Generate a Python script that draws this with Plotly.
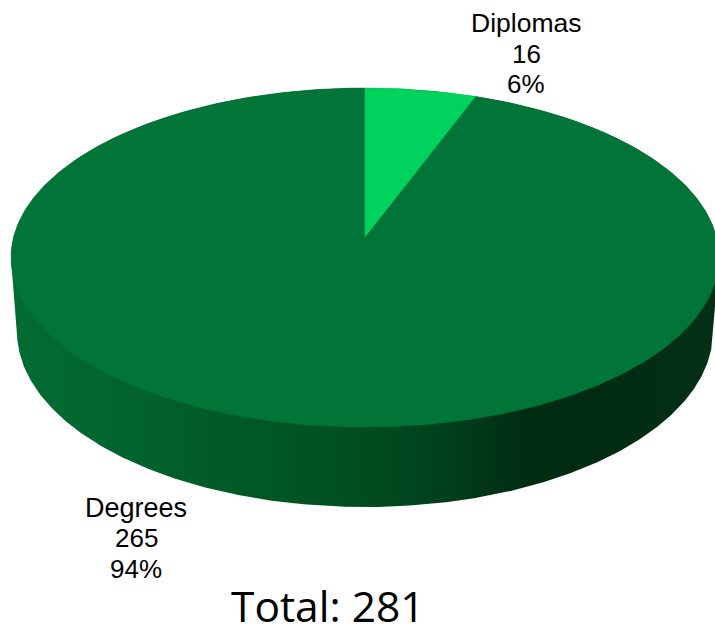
import numpy as np
import plotly.graph_objects as go

categories = ["Diplomas", "Degrees"]
values = [16, 265]
percent_labels = ["6%", "94%"]
total_label = "Total: 281"
slice_colors = ["#00D25E", "#017438"]

# Projection of the pie's unit circle on the page
CX, A, C = 365.0, 351.4, 0.121
YA, YB = -138.4, 237.0
DEPTH_D, DEPTH_E = 0.017, 78.9


def project(theta, radius=1.0, z=0.0):
    u = radius * np.sin(theta)
    v = radius * np.cos(theta)
    d = 1 + C * v + DEPTH_D * z
    return CX + A * u / d, (YA * v + YB + DEPTH_E * z) / d


def convex_hull(points):
    pts = sorted(set(points))

    def half(seq):
        out = []
        for p in seq:
            while len(out) > 1 and ((out[-1][0] - out[-2][0]) * (p[1] - out[-2][1])
                                    - (out[-1][1] - out[-2][1]) * (p[0] - out[-2][0])) <= 0:
                out.pop()
            out.append(p)
        return out[:-1]

    return half(pts) + half(pts[::-1])


fig = go.Figure()

# Side wall: silhouette of the cylinder, shaded left to right
ring = np.radians(np.linspace(0, 360, 721)[:-1])
top_x, top_y = project(ring)
bot_x, bot_y = project(ring, z=1.0)
hull = convex_hull(list(zip(top_x.tolist(), top_y.tolist())) + list(zip(bot_x.tolist(), bot_y.tolist())))
hull = hull + hull[:1]
wall_scale = [
    [0.00, "rgb(2,108,50)"],
    [0.13, "rgb(2,102,47)"],
    [0.27, "rgb(1,92,41)"],
    [0.41, "rgb(0,84,35)"],
    [0.55, "rgb(0,72,31)"],
    [0.65, "rgb(0,58,24)"],
    [0.73, "rgb(0,44,18)"],
    [0.86, "rgb(1,44,19)"],
    [1.00, "rgb(2,48,22)"],
]
fig.add_trace(go.Scatter(x=[p[0] for p in hull], y=[p[1] for p in hull], mode="lines",
                         fill="toself", line=dict(width=0),
                         fillgradient=dict(type="horizontal", colorscale=wall_scale),
                         hoverinfo="skip", showlegend=False))

# Top face: one wedge per value
share = np.array(values, dtype=float) / sum(values)
bounds = np.r_[0, np.cumsum(share)] * 2 * np.pi
order = [1, 0]
for i in order:
    ts = np.linspace(bounds[i], bounds[i + 1], 361)
    x, y = project(ts)
    cx, cy = project(np.array([0.0]), radius=0.0)
    fig.add_trace(go.Scatter(x=np.r_[cx, x, cx], y=np.r_[cy, y, cy], mode="lines",
                             fill="toself", fillcolor=slice_colors[i],
                             line=dict(color=slice_colors[i], width=0.5),
                             name=categories[i], hoverinfo="name", showlegend=False))

# Labels
ann = []
label_specs = [(526, [23, 54, 84], 26.5, 26), (136, [508, 538, 569], 27, 26)]
for i, (lx, ly, fs0, fs1) in enumerate(label_specs):
    rows = [categories[i], str(values[i]), percent_labels[i]]
    for j, (row, yy) in enumerate(zip(rows, ly)):
        ann.append(dict(x=lx, y=yy, xref="x", yref="y", text=row, showarrow=False,
                        xanchor="center", yanchor="middle",
                        font=dict(family="Liberation Sans", size=fs0 if j == 0 else fs1, color="#000000")))
ann.append(dict(x=328, y=605, xref="x", yref="y", text=total_label, showarrow=False,
                xanchor="center", yanchor="middle",
                font=dict(family="Open Sans", size=42.5, color="#000000")))

fig.update_layout(
    width=715, height=629, margin=dict(l=0, r=0, t=0, b=0),
    paper_bgcolor="white", plot_bgcolor="white", annotations=ann,
    xaxis=dict(range=[0, 715], visible=False, fixedrange=True),
    yaxis=dict(range=[629, 0], visible=False, fixedrange=True),
)
fig.write_html("out.html", config={"displayModeBar": False},
               post_script="document.body.style.margin='0';document.body.style.overflow='hidden';")
